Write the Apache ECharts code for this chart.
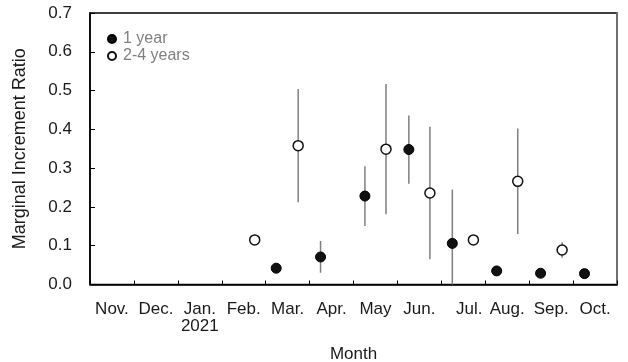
<!DOCTYPE html>
<html>
<head>
<meta charset="utf-8">
<script src="https://cdn.jsdelivr.net/npm/echarts@6/dist/echarts.min.js"></script>
<style>
  html, body { margin: 0; padding: 0; background: #fff; }
  #chart { width: 628px; height: 362px; }
</style>
</head>
<body>
<div id="chart"></div>
<script>
// Month slots, Nov. 2020 to Oct. 2021; positions below are in month units from Nov. 1
const monthLabels = ['Nov.', 'Dec.', 'Jan.', 'Feb.', 'Mar.', 'Apr.', 'May', 'Jun.', 'Jul.', 'Aug.', 'Sep.', 'Oct.'];
const yearLabel = '2021';            // shown under Jan.
const yTicks = [0, 0.1, 0.2, 0.3, 0.4, 0.5, 0.6, 0.7];

// 1-year-old fish: sampling position, mean ratio, standard deviation
const oneYearX   = [4.24, 5.25, 6.26, 7.26, 8.25, 9.26, 10.26, 11.26];
const oneYearY   = [0.042, 0.071, 0.228, 0.348, 0.106, 0.035, 0.029, 0.028];
const oneYearErr = [0.004, 0.041, 0.077, 0.088, 0.139, 0.004, 0.004, 0.004];

// 2-4-year-old fish
const olderX   = [3.75, 4.74, 6.74, 7.74, 8.73, 9.74, 10.75];
const olderY   = [0.115, 0.358, 0.349, 0.236, 0.115, 0.266, 0.089];
const olderErr = [0.004, 0.146, 0.168, 0.171, 0.004, 0.136, 0.020];

const pairs = (xs, ys) => xs.map((x, i) => [x, ys[i]]);
const errRows = (xs, ys, es) => xs.map((x, i) => [x, ys[i] - es[i], ys[i] + es[i]]);

const font = 'Liberation Sans, Arial, sans-serif';
const ink = '#1a1a1a';

function errorBar(params, api) {
  const lo = api.coord([api.value(0), api.value(1)]);
  const hi = api.coord([api.value(0), api.value(2)]);
  return {
    type: 'line',
    shape: { x1: lo[0], y1: lo[1], x2: hi[0], y2: hi[1] },
    style: { stroke: '#7f7f7f', lineWidth: 1.5 }
  };
}

// month labels; the year sits under Jan., Jul. is set a little to the right
const monthData = monthLabels.map(m => {
  if (m === 'Jan.') return m + '\n' + yearLabel;
  if (m === 'Jul.') return { value: m, textStyle: { padding: [0, 0, 0, 12] } };
  return m;
});

const chart = echarts.init(document.getElementById('chart'), null, { renderer: 'canvas' });

chart.setOption({
  animation: false,
  grid: {
    left: 90, right: 11, top: 13, bottom: 77.5,
    outerBoundsMode: 'none', containLabel: false,
    show: true, borderColor: '#000', borderWidth: 1.5, backgroundColor: 'transparent'
  },
  legend: {
    orient: 'vertical',
    left: 102, top: 26,
    itemWidth: 8, itemHeight: 8, itemGap: 1,
    textStyle: { color: '#808080', fontSize: 16, fontFamily: font, padding: [0, 0, 0, 2] },
    data: ['1 year', '2-4 years']
  },
  xAxis: [
    {
      type: 'value', min: 0, max: 12, interval: 1,
      axisLine: { show: true, lineStyle: { color: '#000', width: 1.5 } },
      axisTick: { show: true, inside: true, length: 4, lineStyle: { color: '#000', width: 1 } },
      axisLabel: { show: false },
      splitLine: { show: false }
    },
    {
      type: 'category', position: 'bottom', boundaryGap: true,
      data: monthData,
      axisLine: { show: false }, axisTick: { show: false },
      axisLabel: { color: ink, fontSize: 17, fontFamily: font, margin: 16, lineHeight: 17, interval: 0 },
      name: 'Month', nameLocation: 'middle', nameGap: 61,
      nameTextStyle: { color: ink, fontSize: 17, fontFamily: font }
    }
  ],
  yAxis: [
    {
      type: 'value', min: yTicks[0], max: yTicks[yTicks.length - 1], interval: 0.1,
      axisLine: { show: true, lineStyle: { color: '#000', width: 1.5 } },
      axisTick: { show: true, inside: true, length: 5, lineStyle: { color: '#000', width: 1 } },
      axisLabel: { color: ink, fontSize: 17, fontFamily: font, margin: 18, formatter: v => v.toFixed(1) },
      splitLine: { show: false },
      name: 'Marginal Increment Ratio', nameLocation: 'middle', nameGap: 61,
      nameTextStyle: { color: ink, fontSize: 18, fontFamily: font }
    },
    {
      type: 'value', position: 'right', min: 0, max: 0.7,
      axisLine: { show: true, lineStyle: { color: '#6e6e6e', width: 2 } },
      axisTick: { show: false }, axisLabel: { show: false }, splitLine: { show: false }
    }
  ],
  series: [
    {
      type: 'custom', name: 'err1', renderItem: errorBar, clip: true, z: 1,
      encode: { x: 0, y: [1, 2] },
      data: errRows(oneYearX, oneYearY, oneYearErr)
    },
    {
      type: 'custom', name: 'err2', renderItem: errorBar, clip: true, z: 1,
      encode: { x: 0, y: [1, 2] },
      data: errRows(olderX, olderY, olderErr)
    },
    {
      type: 'scatter', name: '1 year', symbol: 'circle', symbolSize: 10, z: 3,
      itemStyle: { color: '#111', borderColor: '#000', borderWidth: 1, opacity: 1 },
      data: pairs(oneYearX, oneYearY)
    },
    {
      type: 'scatter', name: '2-4 years', symbol: 'circle', symbolSize: 10, z: 3,
      itemStyle: { color: '#fff', borderColor: '#111', borderWidth: 1.5, opacity: 1 },
      data: pairs(olderX, olderY)
    }
  ]
});
</script>
</body>
</html>
